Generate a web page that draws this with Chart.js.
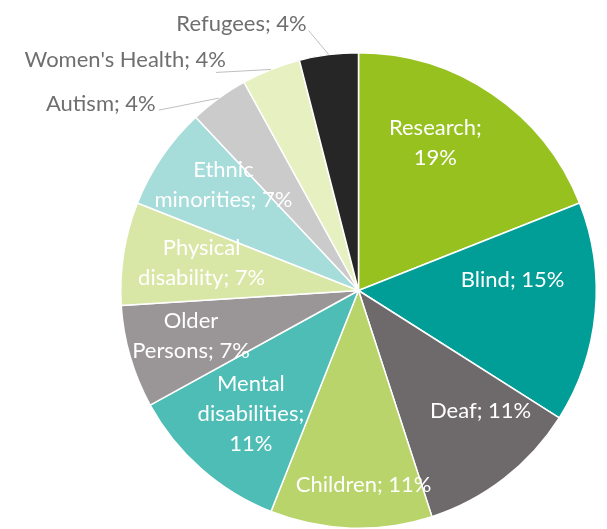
<!DOCTYPE html>
<html>
<head>
<meta charset="utf-8">
<script src="https://cdn.jsdelivr.net/npm/chart.js@4/dist/chart.umd.min.js"></script>
<style>
  html, body { margin: 0; padding: 0; background: #fff; }
  #wrap { width: 607px; height: 529px; position: relative; }
</style>
</head>
<body>
<div id="wrap"><canvas id="pieCanvas"></canvas></div>
<script>
// categories and shares (percent), clockwise from 12 o'clock
const categories = ["Research", "Blind", "Deaf", "Children", "Mental disabilities", "Older Persons",
  "Physical disability", "Ethnic minorities", "Autism", "Women's Health", "Refugees"];
const shares = [19, 15, 11, 11, 11, 7, 7, 7, 4, 4, 4];
const sliceColors = ["#96c11f", "#009e96", "#6e6a6b", "#b9d46a", "#4dbdb5", "#9a9697",
  "#d8e6a6", "#a6dcd9", "#cbcbcb", "#e6f0c0", "#262626"];

// how many words go on each line of a label (null = one line)
const lineWords = [[1, 1], null, null, null, [1, 1, 1], [1, 2], [1, 2], [1, 2], null, null, null];

// inside labels: [radius factor, angle shift in degrees]
// outside labels: leader end relative to the arc edge, text anchor relative to leader end
const labelPlace = [
  [0.70, -6.7], [0.65, -9.4], [0.72, -7.7], [0.82, -3.3], [0.69, -0.4],
  [0.73, 1], [0.67, 1], [0.72, 3.7],
  { dx: -60, dy: 12, tx: -3, ty: -6 },
  { dx: -55, dy: 3, tx: 10, ty: -13 },
  { dx: -20, dy: -24, tx: -2, ty: -7 }
];

const FONT = '22px Lato, "Open Sans", sans-serif';

function labelText(i) {
  const words = (categories[i] + "; " + shares[i] + "%").split(" ");
  const spec = lineWords[i];
  if (!spec) return [words.join(" ")];
  const lines = [];
  let k = 0;
  spec.forEach(n => { lines.push(words.slice(k, k + n).join(" ")); k += n; });
  if (k < words.length) lines[lines.length - 1] += " " + words.slice(k).join(" ");
  return lines;
}

const pieLabels = {
  id: "pieLabels",
  afterDatasetsDraw(chart) {
    const ctx = chart.ctx;
    const arcs = chart.getDatasetMeta(0).data;
    ctx.save();
    ctx.font = FONT;
    ctx.textBaseline = "middle";
    arcs.forEach((arc, i) => {
      const p = arc.getProps(["x", "y", "startAngle", "endAngle", "outerRadius"], true);
      const mid = (p.startAngle + p.endAngle) / 2;
      const place = labelPlace[i];
      const lines = labelText(i);
      if (Array.isArray(place)) {
        const a = mid + place[1] * Math.PI / 180;
        const r = p.outerRadius * place[0];
        const cx = p.x + Math.cos(a) * r;
        const cy = p.y + Math.sin(a) * r;
        ctx.fillStyle = "#ffffff";
        ctx.textAlign = "center";
        const lh = 30;
        lines.forEach((t, j) => {
          ctx.fillText(t, cx, cy + (j - (lines.length - 1) / 2) * lh);
        });
      } else {
        const ax = p.x + Math.cos(mid) * p.outerRadius;
        const ay = p.y + Math.sin(mid) * p.outerRadius;
        const ex = ax + place.dx;
        const ey = ay + place.dy;
        ctx.strokeStyle = "#bfbfbf";
        ctx.lineWidth = 1;
        ctx.beginPath();
        ctx.moveTo(ax, ay);
        ctx.lineTo(ex, ey);
        ctx.stroke();
        ctx.fillStyle = "#6f6f6f";
        ctx.textAlign = "right";
        ctx.fillText(lines[0], ex + place.tx, ey + place.ty);
      }
    });
    ctx.restore();
  }
};

new Chart(document.getElementById("pieCanvas"), {
  type: "pie",
  data: {
    labels: categories,
    datasets: [{
      data: shares,
      backgroundColor: sliceColors,
      borderColor: "#ffffff",
      borderWidth: 1.5,
    }],
  },
  options: {
    responsive: true,
    maintainAspectRatio: false,
    animation: false,
    layout: { padding: { left: 118, right: 8, top: 52, bottom: 0 } },
    plugins: {
      legend: { display: false },
      tooltip: { enabled: false },
    },
  },
  plugins: [pieLabels],
});
</script>
</body>
</html>
